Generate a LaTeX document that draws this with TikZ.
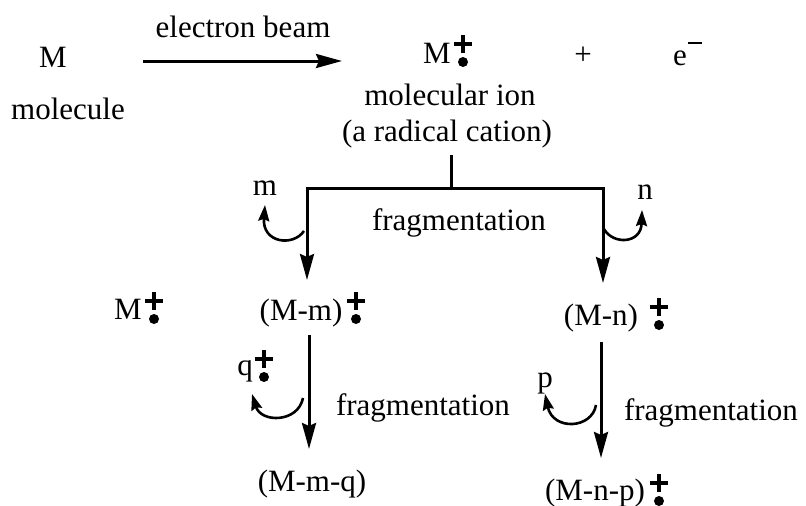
\documentclass[tikz,border=0pt]{standalone}
\usepackage{fontspec}
\setmainfont{Liberation Serif}
\usetikzlibrary{arrows.meta}
\tikzset{
  lbl/.style={anchor=base, inner sep=0pt, font=\fontsize{31}{36}\selectfont},
  bigarrow/.style={line width=3pt, -{Stealth[length=26pt,width=14pt,inset=3pt]}},
  bar/.style={line width=3pt},
  curvarrow/.style={line width=2.6pt, -{Stealth[length=16pt,width=11pt,inset=2pt]}},
  radcat/.pic={
    \draw[line width=3.2pt] (-9,0)--(9,0) (0,-9)--(0,9);
    \fill (0,18) circle (5);
  }
}
\begin{document}
\begin{tikzpicture}[x=1pt,y=-1pt]
\useasboundingbox[fill=white] (0,0) rectangle (806,506);
% top row
\node[lbl] (M) at (53,67) {M};
\node[lbl] (mol) at (68,119) {molecule};
\node[lbl] (eb) at (243,37) {electron beam};
\coordinate (a1) at (143,61);
\coordinate (a2) at (342,61);
\draw[bigarrow] (a1) -- (a2);
\node[lbl] (Mion) at (437,63) {M};
\pic at (463,44) {radcat};
\node[lbl] (plus) at (583,64) {+};
\node[lbl] (e) at (680,65) {e};
\draw[line width=2.6pt] (688,43) -- (702,43);
\node[lbl] (molion) at (450,105) {molecular ion};
\node[lbl] (radc) at (447,141) {(a radical cation)};
% branching
\coordinate (j0) at (451,155);
\coordinate (j1) at (451,188);
\coordinate (jl) at (307,188);
\coordinate (jr) at (603,188);
\coordinate (tl) at (307,280);
\coordinate (tr) at (603,283);
\draw[bar] (j0) -- (j1);
\draw[bar, line cap=rect] (jl) -- (jr);
\draw[bigarrow] (jl) -- (tl);
\draw[bigarrow] (jr) -- (tr);
\node[lbl] (frag1) at (459,230) {fragmentation};
\node[lbl] (m) at (265,195) {m};
\node[lbl] (n) at (645,199) {n};
\coordinate (cl0) at (304,231);
\coordinate (cl1) at (265,205);
\draw[curvarrow] (cl0) .. controls (293,247) and (262,243) .. (cl1);
\coordinate (cr0) at (604,229);
\coordinate (cr1) at (642,210);
\draw[curvarrow] (cr0) .. controls (613,245) and (641,244) .. (cr1);
% second row
\node[lbl] (Mleft) at (128,319) {M};
\pic at (154,301) {radcat};
\node[lbl] (Mm) at (301,320) {(M-m)};
\pic at (356,301) {radcat};
\node[lbl] (Mn) at (601,325) {(M-n)};
\pic at (659,307) {radcat};
% left lower branch
\coordinate (v1) at (309,335);
\coordinate (v2) at (309,449);
\draw[bigarrow] (v1) -- (v2);
\node[lbl] (q) at (245,375) {q};
\pic at (264,359) {radcat};
\coordinate (cq0) at (303,398);
\coordinate (cq1) at (252,394);
\draw[curvarrow] (cq0) .. controls (298,423) and (261,423) .. (cq1);
\node[lbl] (frag2) at (423,415) {fragmentation};
\node[lbl] (Mmq) at (312,491) {(M-m-q)};
% right lower branch
\coordinate (w1) at (601,342);
\coordinate (w2) at (601,458);
\draw[bigarrow] (w1) -- (w2);
\node[lbl] (p) at (545,387) {p};
\coordinate (cp0) at (596,405);
\coordinate (cp1) at (545,394);
\draw[curvarrow] (cp0) .. controls (592,429) and (553,431) .. (cp1);
\node[lbl] (frag3) at (711,420) {fragmentation};
\node[lbl] (Mnp) at (595,500) {(M-n-p)};
\pic at (659,483) {radcat};
\end{tikzpicture}
\end{document}
